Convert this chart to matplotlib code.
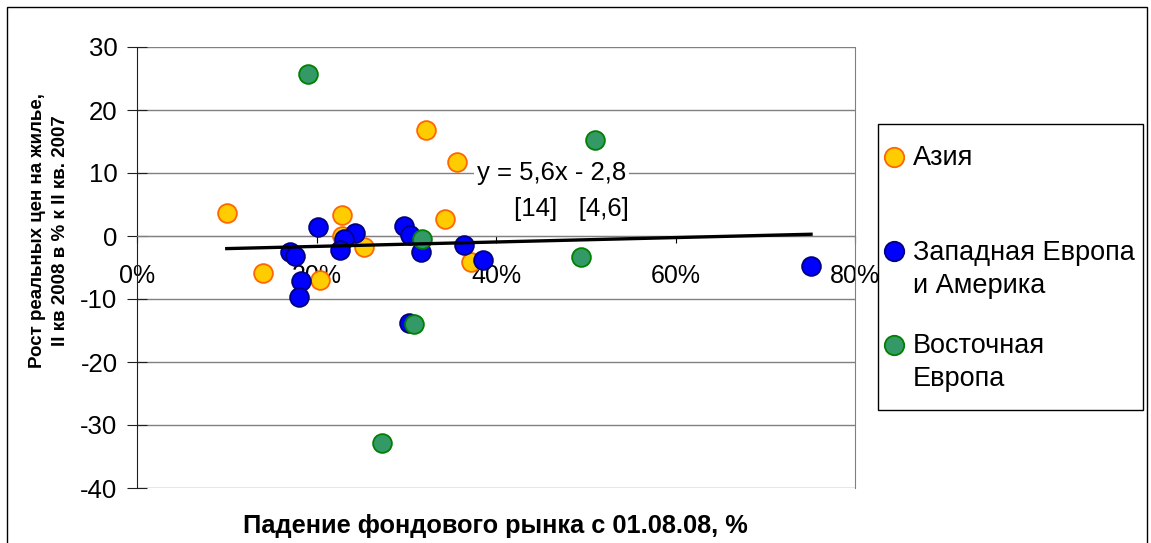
import matplotlib
matplotlib.use("Agg")
import matplotlib.pyplot as plt
from matplotlib.ticker import PercentFormatter, MultipleLocator
from matplotlib.patches import Rectangle
from matplotlib.lines import Line2D

plt.rcParams['font.family'] = ['Liberation Sans', 'DejaVu Sans']
plt.rcParams['axes.unicode_minus'] = False

# ---- data (x = stock market fall since 01.08.08, fraction; y = real house price growth, %) ----
asia_x = [0.100, 0.228, 0.322, 0.356, 0.343, 0.253, 0.228, 0.140, 0.204, 0.372]
asia_y = [3.6, 3.3, 16.9, 11.7, 2.7, -1.8, 0.0, -5.8, -7.0, -4.1]

west_x = [0.202, 0.243, 0.231, 0.226, 0.171, 0.176, 0.183, 0.181, 0.298, 0.304,
          0.316, 0.364, 0.386, 0.303, 0.751]
west_y = [1.4, 0.4, -0.5, -2.2, -2.5, -3.2, -7.1, -9.7, 1.6, 0.2,
          -2.5, -1.5, -3.8, -13.8, -4.7]

east_x = [0.190, 0.317, 0.309, 0.273, 0.510, 0.495]
east_y = [25.7, -0.4, -14.0, -32.9, 15.2, -3.3]

series_names = ["Азия", "Западная Европа\nи Америка", "Восточная\nЕвропа"]
trend_slope = 3.5
trend_intercept = -2.35
equation_text = "y = 5,6x - 2,8"
tstat_text = "[14]   [4,6]"
x_label = "Падение фондового рынка с 01.08.08, %"
y_label = "Рост реальных цен на жилье,\nII кв 2008 в % к II кв. 2007"

colors = [('#FFCC00', '#FF6600'), ('#0000FF', '#000080'), ('#339966', '#008000')]

W, H = 1151, 543
fig = plt.figure(figsize=(W / 100, H / 100), dpi=100)
ax = fig.add_axes([137 / W, 1 - 488 / H, (855 - 137) / W, (488 - 47) / H])

ax.set_xlim(0, 0.8)
ax.set_ylim(-40, 30)
ax.yaxis.set_major_locator(MultipleLocator(10))
ax.xaxis.set_major_locator(MultipleLocator(0.2))
ax.xaxis.set_major_formatter(PercentFormatter(1.0, decimals=0))

ax.grid(axis='y', color='#808080', linewidth=1.0)
ax.set_axisbelow(True)

ax.spines['top'].set_visible(False)
ax.spines['right'].set_color('#808080')
ax.spines['left'].set_color('#202020')
ax.spines['bottom'].set_position(('data', 0))
ax.spines['bottom'].set_color('#808080')

ax.tick_params(axis='y', direction='inout', length=14, color='#202020', labelsize=18.5, pad=7)
ax.tick_params(axis='x', direction='out', length=5, color='black', labelsize=18, pad=15)

ms = 13.5
for (xs, ys), (fc, ec) in zip([(asia_x, asia_y), (west_x, west_y), (east_x, east_y)], colors):
    ax.scatter(xs, ys, s=ms ** 2, c=fc, edgecolors=ec, linewidths=1.3, zorder=3)

all_x = asia_x + west_x + east_x
x0, x1 = min(all_x), max(all_x)
ax.plot([x0, x1], [trend_intercept + trend_slope * x0, trend_intercept + trend_slope * x1],
        color='black', linewidth=2.4, zorder=4)

ax.text(0.462, 10, equation_text, ha='center', va='center', fontsize=18.5,
        bbox=dict(facecolor='white', edgecolor='none', pad=2), zorder=5)
ax.text(0.484, 4.3, tstat_text, ha='center', va='center', fontsize=18.5, zorder=5)

fig.text(49 / W, 1 - 231 / H, y_label, rotation=90, ha='center', va='center',
         fontsize=13.5, fontweight='bold', linespacing=1.45)
fig.text(495 / W, 1 - 526 / H, x_label, ha='center', va='center',
         fontsize=18.3, fontweight='bold')

# legend frame
fig.patches.append(Rectangle((878 / W, 1 - 410 / H), (1143 - 878) / W, (410 - 124) / H,
                             transform=fig.transFigure, facecolor='white',
                             edgecolor='black', linewidth=1.0, zorder=1))
marker_rows = [157, 251, 345]
baseline_rows = [165, 260, 353]
for name, (fc, ec), my, by in zip(series_names, colors, marker_rows, baseline_rows):
    fig.add_artist(Line2D([894 / W], [1 - my / H], transform=fig.transFigure, linestyle='none',
                          marker='o', markersize=14, markerfacecolor=fc, markeredgecolor=ec,
                          markeredgewidth=1.3))
    first, *rest = name.split("\n")
    fig.text(913 / W, 1 - by / H, first, ha='left', va='baseline', fontsize=19.5)
    for k, line in enumerate(rest, start=1):
        fig.text(913 / W, 1 - (by + 33 * k) / H, line, ha='left', va='baseline', fontsize=19.5)

# outer chart border
fig.patches.append(Rectangle((7 / W, -0.05), (1147 - 7) / W, 1 - 7 / H + 0.05,
                             transform=fig.transFigure, facecolor='none',
                             edgecolor='black', linewidth=1.0, zorder=0))

fig.savefig("out.png", dpi=100)
